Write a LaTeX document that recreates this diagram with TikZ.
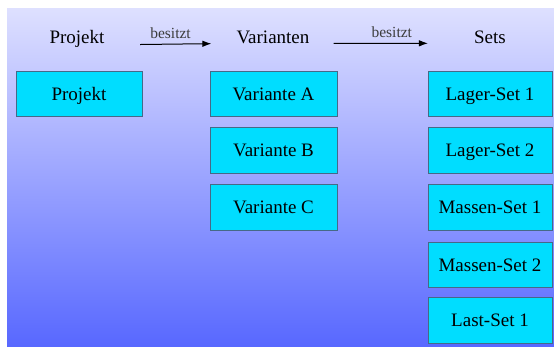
\documentclass[tikz,border=0pt]{standalone}
\usepackage{fontspec}
\setmainfont{Liberation Serif}
\newfontfamily\tmsfont{Liberation Serif}
\usetikzlibrary{arrows.meta}
\definecolor{bgtop}{RGB}{222,224,255}
\definecolor{bgbot}{RGB}{88,104,255}
\definecolor{boxfill}{RGB}{0,221,255}
\definecolor{boxline}{RGB}{70,105,135}
\definecolor{lblgray}{RGB}{60,60,60}
\tikzset{
  setbox/.style={draw=boxline, line width=0.9pt, fill=boxfill, minimum height=45.5pt,
    inner sep=0pt, text height=12.5pt, text depth=0pt, font=\tmsfont\fontsize{19}{21}\selectfont},
  headtext/.style={inner sep=0pt, anchor=base, font=\tmsfont\fontsize{19}{21}\selectfont},
  relarrow/.style={line width=1pt, -{Latex[length=9pt,width=6.5pt]}},
  rellabel/.style={inner sep=0pt, anchor=base, text=lblgray, font=\tmsfont\fontsize{15.5}{17}\selectfont}
}
\begin{document}
\begin{tikzpicture}[x=1pt,y=-1pt]
\useasboundingbox (0,0) rectangle (554,346);
\shade[top color=bgtop, bottom color=bgbot] (7,8) rectangle (554,346);

% headers
\node[headtext] (hp) at (77,43.5) {Projekt};
\node[headtext] (hv) at (273,43.5) {Varianten};
\node[headtext] (hs) at (490,43.5) {Sets};

\draw[relarrow, shorten <=35.5pt, shorten >=25pt] ([yshift=-6pt]hp.east) -- ([yshift=-6pt]hv.west)
  node[rellabel, pos=0.5, yshift=6pt] (l1) {besitzt};
\draw[relarrow, shorten <=24pt, shorten >=46pt] ([yshift=-6pt]hv.east) -- ([yshift=-6pt]hs.west)
  node[rellabel, pos=0.5, yshift=6pt] (l2) {besitzt};

% boxes
\node[setbox, minimum width=126pt] (p) at (79,94) {Projekt};

\node[setbox, minimum width=127pt] (va) at (273.5,94) {Variante A};
\node[setbox, minimum width=127pt] (vb) at (273.5,150.5) {Variante B};
\node[setbox, minimum width=127pt] (vc) at (273.5,207.5) {Variante C};

\node[setbox, minimum width=124pt] (s1) at (490,94) {Lager-Set 1};
\node[setbox, minimum width=124pt] (s2) at (490,150.5) {Lager-Set 2};
\node[setbox, minimum width=124pt] (s3) at (490,207.5) {Massen-Set 1};
\node[setbox, minimum width=124pt] (s4) at (490,265) {Massen-Set 2};
\node[setbox, minimum width=124pt] (s5) at (490,320.5) {Last-Set 1};
\end{tikzpicture}
\end{document}
